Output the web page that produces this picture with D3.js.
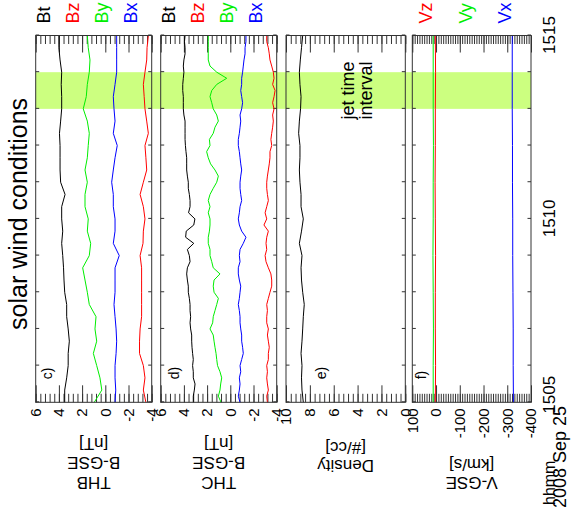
<!DOCTYPE html>
<html>
<head>
<meta charset="utf-8">
<script src="https://cdn.jsdelivr.net/npm/d3@7"></script>
<style>
  body { margin: 0; background: #fff; }
  svg text { font-family: "Liberation Sans", Arial, Helvetica, sans-serif; fill: #000; }
</style>
</head>
<body>
<script>
// time in seconds after 15:05:00 UT, 2008 Sep 25
var t20 = [0,20,40,60,80,100,120,140,160,180,200,220,240,260,280,300,320,340,360,380,400,
           420,440,460,480,500,520,540,560,580,600];
var t10 = [0,10,20,30,40,50,60,70,80,90,100,110,120,130,140,150,160,170,180,190,200,
           210,220,230,240,250,260,270,280,290,300,310,320,330,340,350,360,370,380,390,400,
           410,420,430,440,450,460,470,480,490,500,510,520,530,540,550,560,570,580,590,600];
var t60 = [0,60,120,180,240,300,360,420,480,540,600];

// THB magnetic field, B-GSE [nT]
var thbBt = [3.5,3.5,3.33,3.2,3.2,3.1,3.2,3.33,3.33,3.5,3.56,3.6,3.67,3.76,3.67,3.76,3.76,3.47,
             3.85,3.9,3.9,3.9,3.95,3.85,3.76,3.76,3.8,3.76,3.9,4.0,4.0];
var thbBz = [-3.5,-3.28,-3.42,-3.28,-2.95,-2.95,-3.0,-3.13,-3.13,-3.13,-3.13,-3.13,-3.0,-3.25,
             -3.28,-3.42,-3.28,-3.0,-3.28,-3.57,-3.5,-3.42,-3.71,-3.57,-3.42,-3.35,-3.28,-3.42,
             -3.57,-3.6,-3.71];
var thbBy = [0.95,0.3,0.46,0.74,1.03,0.74,0.89,0.8,1.38,1.55,1.75,1.95,1.38,1.26,1.55,1.47,1.75,
             1.75,1.55,1.75,1.55,1.47,1.38,1.55,1.9,1.64,1.55,1.38,1.32,1.47,1.55];
var thbBx = [-0.84,-0.9,-0.84,-0.84,-0.93,-0.98,-0.93,-0.84,-0.75,-0.84,-0.84,-0.84,-1.2,-0.69,
             -0.84,-0.84,-0.69,-0.69,-0.55,-0.69,-0.84,-1.03,-0.69,-0.84,-0.75,-0.69,-0.84,-0.98,
             -0.98,-0.98,-0.98];

// THC magnetic field, B-GSE [nT]
var thcBt = [3.19,3.19,3.1,3.04,3.19,3.19,3.25,3.19,3.25,3.3,3.33,3.33,3.42,3.47,3.42,3.47,3.47,
             3.53,3.62,3.62,3.7,3.76,3.7,3.47,3.53,3.7,3.15,3.85,3.8,3.15,3.05,3.6,3.47,3.47,3.53,
             3.62,3.62,3.7,3.76,3.76,3.76,3.82,3.87,3.9,3.9,3.9,3.9,4.0,4.05,4.05,4.05,4.1,4.1,
             4.05,4.0,4.05,4.0,3.9,3.9,3.95,3.9];
var thcBz = [-3.2,-3.14,-3.28,-3.2,-3.14,-3.2,-3.14,-3.28,-3.28,-3.36,-3.28,-3.2,-3.28,-3.14,
             -3.14,-3.2,-3.14,-3.28,-3.42,-3.57,-3.57,-3.5,-3.28,-3.08,-3.0,-3.14,-3.08,-3.14,
             -3.28,-2.9,-3.14,-3.0,-3.14,-3.28,-3.2,-3.14,-3.14,-3.2,-3.28,-3.36,-3.42,-3.42,
             -3.57,-3.5,-3.57,-3.65,-3.71,-3.65,-3.77,-3.65,-3.77,-3.86,-3.65,-3.77,-3.71,-3.57,
             -3.42,-3.36,-3.28,-3.14,-3.14];
var thcBy = [0.8,1.03,0.89,0.83,0.74,0.89,1.1,1.17,1.23,1.32,1.4,1.47,1.75,1.52,1.47,1.32,1.17,
             1.03,1.4,1.47,1.4,0.89,1.47,1.6,1.75,1.75,1.9,1.9,1.8,1.75,1.75,1.9,1.75,1.9,1.75,
             1.47,1.17,1.03,1.32,1.7,1.9,2.04,1.75,1.8,1.47,1.32,1.03,1.17,1.47,1.6,1.75,1.6,1.17,
             0.31,1.17,1.75,1.9,1.9,1.9,1.9,1.9];
var thcBx = [-0.84,-0.69,-0.78,-0.84,-0.78,-0.9,-0.84,-0.98,-1.12,-1.06,-0.98,-0.98,-0.9,-0.84,
             -0.84,-0.78,-0.69,-0.78,-0.84,-0.9,-0.78,-0.69,-0.69,-0.84,-0.78,-0.84,-1.12,-1.35,
             -0.98,-0.78,-0.69,-0.78,-0.84,-0.98,-0.9,-0.84,-0.84,-0.9,-0.98,-0.9,-0.84,-0.78,
             -0.69,-0.69,-0.78,-0.84,-0.9,-0.84,-0.98,-1.06,-0.98,-0.9,-0.98,-0.98,-1.06,-1.12,
             -1.18,-1.27,-1.27,-1.35,-1.35];

// solar wind density [#/cc]
var density = [8.55,8.66,8.7,8.66,8.74,8.66,8.6,8.55,8.47,8.6,8.7,8.74,8.66,8.88,8.7,8.55,8.74,
               8.74,8.83,8.88,8.83,8.83,8.94,8.88,8.78,8.74,8.83,8.88,8.8,8.7,8.6];

// solar wind velocity, V-GSE [km/s]
var vx = [-326,-325,-325,-324,-323,-323,-322,-322,-321,-321,-321];
var vy = [12,12,11,12,13,12,12,11,12,12,12];
var vz = [3,2,3,3,2,3,4,3,3,2,3];

// tick labels
var bTicks = [6,4,2,0,-2,-4];
var nTicks = [10,8,6,4,2,0];
var vTicks = [100,0,-100,-200,-300,-400];
var timeTicks = [0,300,600];
var timeLabels = ["1505","1510","1515"];
var jetInterval = [480,540];

var width = 576, height = 524;
var axisColor = "#333";

var svg = d3.select("body").append("svg")
    .attr("width", width)
    .attr("height", height);

// the plot is built upright and then turned a quarter turn
var g = svg.append("g")
    .attr("transform", "translate(0," + height + ") rotate(-90)");

var x = d3.scaleLinear().domain([0, 600]).range([121.7, 488.5]);
var x0 = x.range()[0], x1 = x.range()[1];

var panels = [
  { label: "c)", labelDy: 16, top: 35.7, bottom: 151.7, domain: [-4, 6], major: bTicks, minor: 0.4,
    title: ["THB", "B-GSE", "[nT]"], titleX: [41.5, 61, 80.5],
    series: [
      { name: "Bt", t: t20, v: thbBt, color: "#000" },
      { name: "Bz", t: t20, v: thbBz, color: "#ff0000" },
      { name: "By", t: t20, v: thbBy, color: "#00ee00" },
      { name: "Bx", t: t20, v: thbBx, color: "#0000ff" } ] },
  { label: "d)", labelDy: 18, top: 160.7, bottom: 276.7, domain: [-4, 6], major: bTicks, minor: 0.4,
    title: ["THC", "B-GSE", "[nT]"], titleX: [41.5, 61, 80.5],
    series: [
      { name: "Bt", t: t10, v: thcBt, color: "#000" },
      { name: "Bz", t: t10, v: thcBz, color: "#ff0000" },
      { name: "By", t: t10, v: thcBy, color: "#00ee00" },
      { name: "Bx", t: t10, v: thcBx, color: "#0000ff" } ] },
  { label: "e)", labelDy: 40, top: 286, bottom: 405.3, domain: [0, 10], major: nTicks, minor: 0.4,
    title: ["Density", "[#/cc]"], titleX: [58, 76.5],
    series: [
      { name: "", t: t20, v: density, color: "#000" } ] },
  { label: "f)", labelDy: 14, top: 412.3, bottom: 531, domain: [-400, 100], major: vTicks, minor: 10,
    title: ["V-GSE", "[km/s]"], titleX: [41, 59.5],
    series: [
      { name: "Vz", t: t60, v: vz, color: "#ff0000" },
      { name: "Vy", t: t60, v: vy, color: "#00ee00" },
      { name: "Vx", t: t60, v: vx, color: "#0000ff" } ] }
];

// jet time interval band across all panels
g.append("rect")
    .attr("x", x(jetInterval[0]))
    .attr("width", x(jetInterval[1]) - x(jetInterval[0]))
    .attr("y", panels[0].top)
    .attr("height", panels[3].bottom - panels[0].top)
    .attr("fill", "#ccff80");

panels.forEach(function(p) {
  var y = d3.scaleLinear().domain([p.domain[1], p.domain[0]]).range([p.top, p.bottom]);
  var pg = g.append("g");
  var minor = d3.range(p.domain[0], p.domain[1] + p.minor / 2, p.minor);

  // value ticks on both sides, pointing inward
  [[d3.axisRight, x0], [d3.axisLeft, x1]].forEach(function(s) {
    [[minor, 8.5], [p.major, 17]].forEach(function(k) {
      pg.append("g")
        .attr("transform", "translate(" + s[1] + ",0)")
        .attr("color", axisColor)
        .call(s[0](y).tickValues(k[0]).tickSize(k[1]).tickFormat(""))
        .call(function(a) { a.select(".domain").remove(); });
    });
  });

  // minute ticks along both time edges
  pg.append("g")
    .attr("transform", "translate(0," + p.top + ")")
    .attr("color", axisColor)
    .call(d3.axisBottom(x).tickValues(d3.range(0, 601, 60)).tickSize(3.5).tickFormat(""))
    .call(function(a) { a.select(".domain").remove(); });
  pg.append("g")
    .attr("transform", "translate(0," + p.bottom + ")")
    .attr("color", axisColor)
    .call(d3.axisTop(x).tickValues(d3.range(0, 601, 60)).tickSize(3.5).tickFormat(""))
    .call(function(a) { a.select(".domain").remove(); });

  // tick labels
  var lab = pg.append("g")
    .attr("transform", "translate(" + x0 + ",0)")
    .call(d3.axisLeft(y).tickValues(p.major).tickSize(0).tickPadding(6)
      .tickFormat(function(d) { return String(d); }));
  lab.select(".domain").remove();
  lab.attr("font-size", 15).attr("font-family", null);

  // traces
  var line = d3.line()
    .x(function(d) { return x(d[0]); })
    .y(function(d) { return y(d[1]); });
  p.series.forEach(function(s) {
    pg.append("path")
      .datum(d3.zip(s.t, s.v))
      .attr("d", line)
      .attr("fill", "none")
      .attr("stroke", s.color)
      .attr("stroke-width", 1);
  });

  // frame
  pg.append("rect")
    .attr("x", x0).attr("y", p.top)
    .attr("width", x1 - x0).attr("height", p.bottom - p.top)
    .attr("fill", "none")
    .attr("stroke", axisColor)
    .attr("stroke-width", 1);

  // series names to the right of the panel
  var named = p.series.filter(function(s) { return s.name; });
  var step = (p.bottom - p.top) / named.length;
  named.forEach(function(s, i) {
    pg.append("text")
      .attr("x", x1 + 12)
      .attr("y", p.top + (i + 0.5) * step)
      .attr("font-size", 18)
      .style("fill", s.color)
      .text(s.name);
  });

  // panel letter
  pg.append("text")
    .attr("x", x0 + 23)
    .attr("y", p.top + p.labelDy)
    .attr("font-size", 14)
    .text(p.label);

  // y title, several lines
  p.title.forEach(function(txt, i) {
    pg.append("text")
      .attr("transform", "translate(" + p.titleX[i] + "," + ((p.top + p.bottom) / 2) + ") rotate(-90)")
      .attr("text-anchor", "middle")
      .attr("dy", "0.35em")
      .attr("font-size", 17)
      .text(txt);
  });
});

// time axis labels under the last panel
var ta = g.append("g")
    .attr("transform", "translate(0," + panels[3].bottom + ")")
    .call(d3.axisBottom(x).tickValues(timeTicks).tickSize(0).tickPadding(11.5)
      .tickFormat(function(d, i) { return timeLabels[i]; }));
ta.select(".domain").remove();
ta.attr("font-size", 17).attr("font-family", null);
// first label sits a little inward so it clears the date line
ta.selectAll(".tick text").filter(function(d) { return d === timeTicks[0]; })
    .attr("dx", 7);

g.append("text")
    .attr("x", 19).attr("y", 554.5)
    .attr("font-size", 16)
    .text("hhmm");
g.append("text")
    .attr("x", 16).attr("y", 566)
    .attr("font-size", 18)
    .text("2008 Sep 25");

// title
g.append("text")
    .attr("x", (x0 + x1) / 2 + 5)
    .attr("y", 27)
    .attr("text-anchor", "middle")
    .attr("font-size", 25)
    .text("solar wind conditions");

// jet label inside the density panel
var jx = x((jetInterval[0] + jetInterval[1]) / 2);
g.append("text")
    .attr("x", jx).attr("y", 354)
    .attr("text-anchor", "middle")
    .attr("font-size", 18)
    .text("jet time");
g.append("text")
    .attr("x", jx).attr("y", 372)
    .attr("text-anchor", "middle")
    .attr("font-size", 18)
    .text("interval");
</script>
</body>
</html>
